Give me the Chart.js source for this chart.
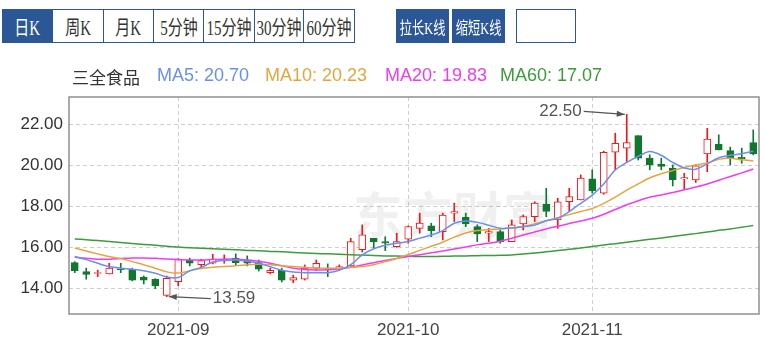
<!DOCTYPE html>
<html>
<head>
<meta charset="utf-8">
<script src="https://cdn.jsdelivr.net/npm/chart.js@4.4.0/dist/chart.umd.min.js"></script>
<style>
body{margin:0;background:#fff;width:765px;height:349px;overflow:hidden;position:relative;font-family:"Liberation Sans",Arial,sans-serif}
#kchart{position:absolute;left:0;top:0}
.cell{position:absolute;top:9px;height:34px;box-sizing:border-box;border:1px solid #2b5797;background:#fff;color:#333;
  font:20px "Liberation Serif","Noto Sans CJK SC",serif;white-space:nowrap;
  display:flex;justify-content:center;align-items:center}
.cell span{display:inline-block;transform:scaleX(0.75);flex:none}
.cell.on,.btn{background:#2b5797;color:#fff}
.btn{font-size:17px}
.btn span{transform:scaleX(0.72)}
.lg{position:absolute;top:65px;font-size:18px;white-space:nowrap}
</style>
</head>
<body>
<canvas id="kchart" width="765" height="349"></canvas>

<div class="cell on" style="left:2px;width:51px"><span>日K</span></div>
<div class="cell" style="left:52px;width:52px"><span>周K</span></div>
<div class="cell" style="left:103px;width:51px"><span>月K</span></div>
<div class="cell" style="left:153px;width:51px"><span>5分钟</span></div>
<div class="cell" style="left:203px;width:52px"><span>15分钟</span></div>
<div class="cell" style="left:254px;width:50px"><span>30分钟</span></div>
<div class="cell" style="left:303px;width:52px"><span>60分钟</span></div>
<div class="cell btn" style="left:396px;width:53px"><span>拉长K线</span></div>
<div class="cell btn" style="left:452px;width:53px"><span>缩短K线</span></div>
<div class="cell" style="left:516px;width:60px"></div>

<div class="lg" style="left:72px;color:#333;font-family:'Noto Sans CJK SC';font-size:17px;top:64px">三全食品</div>
<div class="lg" style="left:157px;color:#6b8ff0">MA5: 20.70</div>
<div class="lg" style="left:265px;color:#e3a63e">MA10: 20.23</div>
<div class="lg" style="left:385px;color:#f03cf0">MA20: 19.83</div>
<div class="lg" style="left:500px;color:#3c9c3c">MA60: 17.07</div>

<script>
// trading days shown
const dates = [
  '2021-08-19','2021-08-20','2021-08-23','2021-08-24','2021-08-25','2021-08-26','2021-08-27','2021-08-30','2021-08-31',
  '2021-09-01','2021-09-02','2021-09-03','2021-09-06','2021-09-07','2021-09-08','2021-09-09','2021-09-10','2021-09-13',
  '2021-09-14','2021-09-15','2021-09-16','2021-09-17','2021-09-22','2021-09-23','2021-09-24','2021-09-27','2021-09-28',
  '2021-09-29','2021-09-30',
  '2021-10-08','2021-10-11','2021-10-12','2021-10-13','2021-10-14','2021-10-15','2021-10-18','2021-10-19','2021-10-20',
  '2021-10-21','2021-10-22','2021-10-25','2021-10-26','2021-10-27','2021-10-28','2021-10-29',
  '2021-11-01','2021-11-02','2021-11-03','2021-11-04','2021-11-05','2021-11-08','2021-11-09','2021-11-10','2021-11-11',
  '2021-11-12','2021-11-15','2021-11-16','2021-11-17','2021-11-18','2021-11-19'
];

const opens  = [15.25,14.81,14.72,14.70,14.95,14.93,14.54,14.44,13.65,14.32,15.37,15.15,15.22,15.37,15.47,15.38,15.25,14.76,14.89,14.40,
                14.44,14.98,14.98,14.98,15.09,15.88,16.44,16.28,16.03,16.40,16.93,17.05,16.77,17.67,17.47,17.01,16.69,16.77,16.28,17.14,
                17.50,18.12,17.34,18.23,18.32,19.35,18.65,20.65,20.85,21.46,20.36,20.07,19.87,19.34,19.30,20.57,21.04,20.73,20.40,21.12];
const highs  = [15.30,14.98,14.89,15.22,15.22,14.98,14.60,14.47,14.60,15.45,15.47,15.42,15.66,15.63,15.68,15.58,15.38,14.98,14.98,14.64,
                15.14,15.38,15.19,15.14,16.44,17.10,16.44,16.52,16.69,17.05,17.67,17.18,17.67,18.16,17.67,17.10,16.93,16.85,17.34,17.58,
                18.23,18.89,18.40,18.89,19.54,19.79,20.70,21.58,22.50,21.46,20.52,20.36,20.03,19.62,20.03,21.82,21.50,20.90,20.85,21.74];
const lows   = [14.76,14.44,14.57,14.70,14.76,14.36,14.21,13.98,13.59,14.12,15.09,14.96,15.19,15.22,15.14,15.09,14.84,14.70,14.31,14.27,
                14.40,14.89,14.57,14.89,15.06,15.77,15.96,15.84,16.00,16.20,16.69,16.52,16.36,17.26,17.01,16.28,16.28,16.20,16.28,16.85,
                17.26,17.50,16.93,17.75,18.32,18.65,18.60,19.79,20.19,20.27,19.79,19.79,19.00,18.84,19.17,19.70,20.76,20.03,20.11,20.52];
const closes = [14.86,14.68,14.77,14.98,14.89,14.40,14.40,14.11,14.49,15.40,15.22,15.35,15.42,15.43,15.25,15.22,14.93,14.88,14.40,14.52,
                14.98,15.22,14.93,15.06,16.28,16.61,16.28,16.20,16.28,17.01,17.18,16.82,17.58,17.75,17.14,16.66,16.77,16.28,17.10,17.50,
                18.16,17.75,18.23,18.48,19.38,18.77,20.65,21.09,21.12,20.36,20.03,19.95,19.30,19.41,19.98,21.29,20.76,20.36,20.32,20.57];

const ma5  = [15.55,15.40,15.22,15.06,14.98,14.93,14.85,14.73,14.55,14.52,14.85,15.02,15.28,15.36,15.38,15.32,15.22,15.05,14.88,14.79,
              14.76,14.76,14.76,14.88,15.15,15.63,15.93,16.10,16.20,16.28,16.45,16.60,16.82,17.18,17.29,17.22,17.08,16.93,16.95,17.01,
              17.08,17.30,17.42,17.75,18.15,18.55,19.10,19.78,20.15,20.45,20.68,20.50,20.15,19.88,19.82,20.08,20.38,20.50,20.58,20.70];
const ma10 = [15.96,15.82,15.68,15.55,15.45,15.30,15.15,14.98,14.80,14.74,14.85,14.96,15.03,15.06,15.10,15.14,15.17,15.15,15.10,15.06,
              15.02,14.98,14.98,14.98,15.02,15.06,15.15,15.30,15.45,15.65,15.85,16.05,16.25,16.50,16.70,16.82,16.87,16.90,16.95,17.02,
              17.15,17.30,17.45,17.60,17.75,17.90,18.15,18.45,18.80,19.10,19.40,19.60,19.75,19.90,20.02,20.12,20.30,20.35,20.28,20.23];
const ma20 = [15.52,15.47,15.42,15.42,15.45,15.48,15.48,15.46,15.43,15.40,15.38,15.38,15.40,15.42,15.42,15.38,15.32,15.22,15.10,14.98,
              14.91,14.89,14.90,14.95,15.03,15.14,15.25,15.36,15.46,15.55,15.64,15.73,15.82,15.92,16.02,16.12,16.20,16.30,16.44,16.60,
              16.75,16.90,17.03,17.16,17.29,17.42,17.62,17.85,18.08,18.28,18.45,18.56,18.68,18.81,18.95,19.10,19.28,19.46,19.64,19.83];
const ma60 = [16.41,16.37,16.33,16.28,16.24,16.19,16.14,16.10,16.05,16.01,15.98,15.95,15.93,15.90,15.88,15.85,15.83,15.80,15.78,15.75,
              15.72,15.70,15.68,15.66,15.64,15.62,15.60,15.58,15.57,15.56,15.55,15.55,15.56,15.57,15.58,15.59,15.60,15.61,15.63,15.67,
              15.72,15.78,15.84,15.90,15.97,16.04,16.11,16.18,16.25,16.32,16.39,16.46,16.53,16.60,16.67,16.75,16.83,16.90,16.98,17.07];

const yTicks = [14, 16, 18, 20, 22];

const UP = '#f01818', DOWN = '#10782e';
const isUp = opens.map((o, i) => closes[i] >= o);

const frame = {
  id: 'frame',
  beforeDatasetsDraw(chart) {
    const ctx = chart.ctx;
    ctx.save();
    ctx.fillStyle = 'rgba(0,0,0,0.06)';
    ctx.font = 'bold 50px "Noto Sans CJK SC"';
    ctx.textBaseline = 'middle';
    ctx.fillText('东方财富', 353, 215);
    ctx.restore();
  },
  afterDatasetsDraw(chart) {
    const {ctx, chartArea: a, scales: {x, y}} = chart;
    ctx.save();
    ctx.strokeStyle = '#909090';
    ctx.lineWidth = 1.5;
    ctx.strokeRect(a.left, a.top, a.right - a.left, a.bottom - a.top);

    const hi = Math.max(...highs), lo = Math.min(...lows);
    tag(ctx, x.getPixelForValue(highs.indexOf(hi)), y.getPixelForValue(hi), -45, -3, hi.toFixed(2));
    tag(ctx, x.getPixelForValue(lows.indexOf(lo)), y.getPixelForValue(lo), 46, 2, lo.toFixed(2));
    ctx.restore();
  }
};

function tag(ctx, px, py, dx, dy, text) {
  ctx.font = '17px "Liberation Sans", Arial';
  ctx.fillStyle = '#555';
  ctx.strokeStyle = '#555';
  ctx.lineWidth = 1.2;
  ctx.textBaseline = 'middle';
  const tx = px + dx, ty = py + dy;
  ctx.textAlign = dx < 0 ? 'right' : 'left';
  ctx.fillText(text, tx, ty);
  const sx = dx < 0 ? tx + 2 : tx - 2;
  const ex = dx < 0 ? px - 2 : px + 2;
  ctx.beginPath();
  ctx.moveTo(sx, ty);
  ctx.lineTo(ex, py);
  ctx.stroke();
  const ang = Math.atan2(py - ty, ex - sx);
  ctx.beginPath();
  ctx.moveTo(ex, py);
  ctx.lineTo(ex - 8 * Math.cos(ang) + 3 * Math.sin(ang), py - 8 * Math.sin(ang) - 3 * Math.cos(ang));
  ctx.lineTo(ex - 8 * Math.cos(ang) - 3 * Math.sin(ang), py - 8 * Math.sin(ang) + 3 * Math.cos(ang));
  ctx.closePath();
  ctx.fill();
}

function maLine(data, color) {
  return {
    type: 'line', data: data, borderColor: color, borderWidth: 1.5,
    pointRadius: 0, tension: 0.3, fill: false, order: 0
  };
}

new Chart(document.getElementById('kchart'), {
  type: 'bar',
  data: {
    labels: dates,
    datasets: [
      {
        data: lows.map((l, i) => [l, highs[i]]),
        backgroundColor: isUp.map(u => u ? UP : DOWN),
        barThickness: 1, grouped: false, order: 2
      },
      {
        data: opens.map((o, i) => [o, closes[i]]),
        backgroundColor: isUp.map(u => u ? '#fff' : DOWN),
        borderColor: isUp.map(u => u ? UP : DOWN),
        borderWidth: 1, borderSkipped: false,
        barThickness: 7, grouped: false, order: 1
      },
      maLine(ma5, '#6b8ff0'),
      maLine(ma10, '#e3a63e'),
      maLine(ma20, '#f03cf0'),
      maLine(ma60, '#3c9c3c')
    ]
  },
  options: {
    responsive: false,
    animation: false,
    layout: {padding: {top: 97, right: 6, left: 0, bottom: 0}},
    plugins: {legend: {display: false}, tooltip: {enabled: false}},
    scales: {
      x: {
        offset: true,
        afterFit: s => { s.height = 35; },
        grid: {offset: false, color: '#cfcfcf', drawTicks: false},
        border: {display: false, dash: [4, 3]},
        ticks: {
          autoSkip: false, maxRotation: 0, padding: 6, color: '#444',
          font: {size: 17, family: '"Liberation Sans", Arial'},
          callback: (v, i) => (i > 0 && dates[i].slice(0, 7) !== dates[i - 1].slice(0, 7)) ? dates[i].slice(0, 7) : null
        }
      },
      y: {
        min: 12.74, max: 23.35,
        afterFit: s => { s.width = 69; },
        afterBuildTicks: s => { s.ticks = yTicks.map(v => ({value: v})); },
        grid: {color: '#cfcfcf', drawTicks: false},
        border: {display: false, dash: [4, 3]},
        ticks: {
          padding: 6, color: '#333',
          font: {size: 17, family: '"Liberation Sans", Arial'},
          callback: v => v.toFixed(2)
        }
      }
    }
  },
  plugins: [frame]
});
</script>
</body>
</html>
